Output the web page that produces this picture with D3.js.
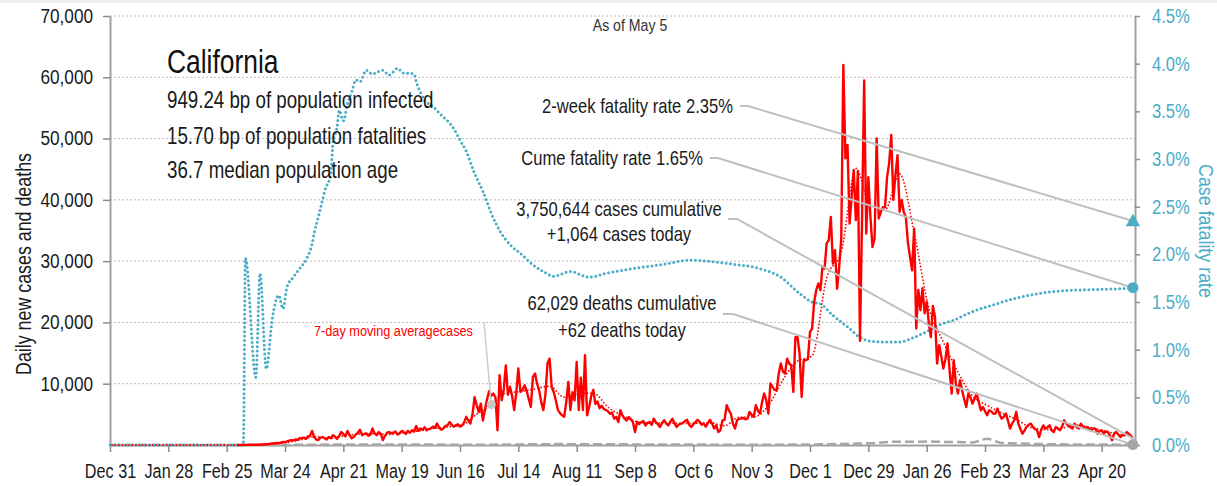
<!DOCTYPE html>
<html>
<head>
<meta charset="utf-8">
<script src="https://cdn.jsdelivr.net/npm/d3@7"></script>
<style>
  body { margin: 0; background: #fff; }
  svg { display: block; font-family: 'Liberation Sans', Arial, sans-serif; }
</style>
</head>
<body>
<div id="chart"></div>
<script>
// day 0 = Dec 31 2019
const start = new Date(2019, 11, 31);
const caseStartDay = 61; // Mar 1 2020

// daily new cases, Mar 1 2020 .. May 5 2021
const cases = [
  5, 8, 10, 15, 20, 25, 30, 40, 35, 50, 60, 70, 90, 110, 130, 150, 200, 250, 300, 350, 300, 400, 500, 450, 600, 700, 800, 750, 900, 850, 1100,
  1100, 1200, 1000, 1400, 1500, 2300, 1300, 900, 800, 1200, 1300, 1100, 900, 1300, 1100, 1600, 1400, 1000, 1500, 2100, 1800, 1400, 2300, 1600, 1100, 1300, 1700, 2000, 2500, 1600,
  1800, 1900, 1500, 1700, 2700, 1900, 1600, 2100, 1800, 800, 1500, 2000, 2100, 1900, 2000, 2200, 1700, 1900, 2300, 2100, 1800, 2300, 2000, 2400, 2200, 3100, 2300, 2700, 2500, 2900, 2400,
  2600, 2700, 3000, 2800, 3500, 2800, 2500, 2700, 3100, 3200, 3750, 3300, 3000, 3200, 3400, 3000, 3200, 3700, 4600, 4000, 3500, 5000, 7800, 6500, 5400, 6750, 4000, 5800, 7500, 8800,
  8000, 8400, 7800, 2400, 11400, 7300, 9000, 13000, 8200, 9500, 8000, 5700, 8500, 12500, 8650, 9000, 9750, 8800, 7500, 6200, 11100, 11650, 10000, 8900, 7000, 5700, 8200, 13300, 14100, 9500, 8600,
  7300, 5700, 5200, 4850, 4600, 7000, 10300, 5700, 8600, 7300, 13550, 5700, 11000, 5700, 14650, 4850, 6200, 8000, 9000, 6700, 7100, 6000, 6400, 5900, 5700, 5500, 5100, 5300, 4300, 4600, 3750,
  5670, 4800, 4300, 4000, 4570, 4200, 3750, 2120, 3750, 3400, 3750, 3900, 3200, 3600, 3750, 3300, 4300, 3700, 3400, 2940, 3600, 4030, 3500, 3200, 3800, 4300, 3500, 2940, 3300, 3480,
  3600, 3900, 4100, 3300, 2940, 3400, 3700, 4100, 3800, 3300, 3500, 3000, 3600, 4100, 3500, 2700, 3200, 2120, 2400, 4030, 4100, 6480, 5700, 5130, 3500, 2680, 4030, 4300, 4310, 4400, 4200,
  4310, 5390, 4900, 4590, 6480, 5600, 5130, 7000, 8390, 7300, 5130, 10030, 9480, 9000, 8930, 11660, 13300, 12000, 11660, 14100, 13300, 13000, 8650, 17600, 17600, 14930, 7840, 13830, 13830, 14000,
  18450, 19000, 23350, 25260, 26350, 25260, 29100, 28800, 32900, 33430, 37200, 29600, 31800, 25500, 29000, 33700, 62000, 46770, 48950, 36150, 40500, 44860, 36700, 44700, 17000, 37200, 59500, 34500, 43700, 37200, 32300,
  33700, 50000, 36970, 38000, 38800, 38800, 43700, 46000, 50600, 40000, 44000, 47300, 38050, 40000, 38000, 37200, 33000, 30700, 28500, 35300, 19000, 25300, 22000, 25600, 21500, 23350, 20000, 17600, 22700, 20900, 13300,
  16280, 14500, 12480, 14000, 16560, 12200, 8390, 13830, 10030, 8390, 10570, 8930, 7500, 6200, 8390, 7800, 6750, 7570, 8390, 7000, 5670, 6200, 5500, 4850, 5670, 5500, 5100, 5120,
  5940, 5000, 4300, 4600, 5120, 4000, 2680, 3500, 4030, 5400, 3480, 2600, 1850, 2400, 3000, 3300, 3480, 2940, 2600, 2400, 1300, 2500, 3200, 2680, 2900, 3200, 2400, 2120, 2940, 2700, 2400,
  3000, 4030, 3500, 3200, 2900, 2680, 3480, 2900, 2680, 3480, 3000, 2680, 2940, 2700, 2400, 2700, 2680, 1850, 2300, 2400, 1850, 2200, 2120, 1500, 770, 1900, 2120, 1700, 1300, 1600,
  1570, 2120, 1800, 1500, 1064
];

// weekly samples (day 1, 8, 15 ... 491)
const weekDays = d3.range(1, 492, 7);
const avgCases = [
  0, 0, 0, 0, 0, 0, 0, 0, 0,
  5, 37, 143, 414, 886, 1371, 1100, 1543, 1786, 1871, 1700, 2014, 2300, 2686, 2943, 3264, 5014, 6607, 8471, 8721,
  9143, 9600, 7800, 8307, 8486, 6186, 4789, 3813, 3557, 3639, 3503, 3563, 3629, 3150, 4546, 4586, 6433, 10629, 13701, 14554,
  27289, 31461, 45133, 39114, 38367, 44236, 34671, 22393, 16823, 11914, 8020, 6454, 5233, 4190, 2873, 2517, 2666, 3256, 2911, 2311,
  1759, 1565
];
const deaths = [
  0, 0, 0, 0, 0, 0, 0, 0, 0,
  0, 1, 5, 15, 30, 50, 70, 80, 75, 75, 70, 75, 70, 65, 60, 60, 50, 60, 70, 100,
  110, 140, 150, 130, 140, 120, 110, 90, 95, 80, 70, 70, 60, 55, 50, 45, 45, 55, 70, 90,
  120, 180, 230, 300, 450, 550, 520, 580, 500, 480, 420, 1000, 330, 250, 180, 140, 110, 90, 80, 70,
  60, 62
];

// case fatality rate (%), day index and value
const rateDay = [0, 64, 65, 70, 72, 75, 78, 81, 83, 85, 88, 91, 94, 97, 98, 100, 102, 103, 106, 107, 109, 110, 112, 114, 116, 118, 120,
  123, 126, 129, 131, 134, 138, 141, 144, 146, 147, 149, 151, 155, 159, 165, 168, 171, 175, 179, 183, 187, 193, 197, 203, 208, 213,
  221, 230, 238, 251, 267, 278, 286, 298, 312, 322, 331, 337, 341, 347, 354, 360, 365, 373, 379, 385, 392, 398, 405, 414, 424, 433,
  446, 459, 472, 485, 491];
const rateValue = [0, 0, 1.96, 0.71, 1.80, 0.80, 1.34, 1.57, 1.43, 1.66, 1.76, 1.85, 1.94, 2.11, 2.22, 2.39, 2.57, 2.66, 2.85, 3.17, 3.34, 3.51, 3.40, 3.58, 3.70, 3.83, 3.81,
  3.93, 3.89, 3.92, 3.93, 3.88, 3.95, 3.90, 3.90, 3.89, 3.81, 3.70, 3.62, 3.55, 3.46, 3.32, 3.20, 3.08, 2.85, 2.66, 2.43, 2.25, 2.08, 2.01, 1.89, 1.82, 1.77,
  1.82, 1.76, 1.80, 1.85, 1.90, 1.94, 1.93, 1.90, 1.85, 1.76, 1.59, 1.50, 1.48, 1.36, 1.24, 1.13, 1.09, 1.08, 1.08, 1.12, 1.19, 1.26, 1.31, 1.40, 1.47, 1.53,
  1.59, 1.62, 1.63, 1.64, 1.65];

const tickDays = [0, 28, 56, 84, 112, 140, 168, 196, 224, 252, 280, 308, 336, 364, 392, 420, 448, 476];
const tickLabels = ["Dec 31", "Jan 28", "Feb 25", "Mar 24", "Apr 21", "May 19", "Jun 16", "Jul 14", "Aug 11", "Sep 8",
  "Oct 6", "Nov 3", "Dec 1", "Dec 29", "Jan 26", "Feb 23", "Mar 23", "Apr 20"];

const lastDay = 491;
const twoWeekRate = 2.35;
const cumeRate = 1.65;
const casesToday = 1064;
const deathsToday = 62;
const statLines = ["949.24 bp of population infected", "15.70 bp of population fatalities", "36.7 median population age"];

const teal = "#4bacc6";
const width = 1217, height = 486;
const margin = { top: 16, right: 82, bottom: 41, left: 110 };

const day = d => d3.timeDay.offset(start, d);

// squeeze regular Liberation Sans into a narrow face
const condense = (sel, k) => sel.each(function () {
  const w = this.getComputedTextLength();
  d3.select(this).attr("textLength", w * k).attr("lengthAdjust", "spacingAndGlyphs");
});

const svg = d3.select("#chart")
  .append("svg")
  .attr("width", width)
  .attr("height", height);

svg.append("rect").attr("width", width).attr("height", 3).attr("fill", "#f0f0f0");

const x = d3.scaleTime()
  .domain([start, day(492)])
  .range([margin.left, width - margin.right]);

const y = d3.scaleLinear()
  .domain([0, 70000])
  .range([height - margin.bottom, margin.top]);

const yR = d3.scaleLinear()
  .domain([0, 4.5])
  .range([height - margin.bottom, margin.top]);

// grid
svg.append("g")
  .selectAll("line")
  .data(d3.range(10000, 70001, 10000))
  .join("line")
  .attr("x1", margin.left)
  .attr("x2", width - margin.right)
  .attr("y1", d => y(d))
  .attr("y2", d => y(d))
  .attr("stroke", "#bdbdbd")
  .attr("stroke-width", 1)
  .attr("stroke-dasharray", "2,2");

// axes
const styleAxis = g => {
  g.attr("font-family", null).attr("font-size", null);
  g.select(".domain").attr("stroke", "#a0a0a0").attr("stroke-width", 2);
  g.selectAll(".tick line").attr("stroke", "#8c8c8c").attr("stroke-width", 1.5);
  g.selectAll("text").attr("font-size", 20);
};

svg.append("g")
  .attr("transform", `translate(0, ${height - margin.bottom})`)
  .call(d3.axisBottom(x).tickValues(tickDays.map(day)).tickFormat((d, i) => tickLabels[i]).tickSize(7).tickSizeOuter(0).tickPadding(12))
  .call(styleAxis)
  .call(g => g.selectAll("text").attr("fill", "#1a1a1a").call(condense, 0.81));

svg.append("g")
  .attr("transform", `translate(${margin.left}, 0)`)
  .call(d3.axisLeft(y).tickValues(d3.range(10000, 70001, 10000)).tickFormat(d3.format(",")).tickSize(7).tickSizeOuter(0).tickPadding(10))
  .call(styleAxis)
  .call(g => g.selectAll("text").attr("fill", "#1a1a1a").call(condense, 0.86));

svg.append("g")
  .attr("transform", `translate(${width - margin.right}, 0)`)
  .call(d3.axisRight(yR).tickValues(d3.range(0, 4.51, 0.5)).tickFormat(d => d.toFixed(1) + "%").tickSize(5).tickSizeOuter(0).tickPadding(12))
  .call(styleAxis)
  .call(g => g.selectAll("text").attr("fill", teal).call(condense, 0.83));

svg.append("text")
  .attr("transform", `translate(31, ${(153 + 375) / 2}) rotate(-90)`)
  .attr("text-anchor", "middle")
  .attr("font-size", 22)
  .attr("fill", "#1a1a1a")
  .text("Daily new cases and deaths")
  .call(condense, 0.81);

svg.append("text")
  .attr("transform", `translate(1199, 231) rotate(90)`)
  .attr("text-anchor", "middle")
  .attr("font-size", 21)
  .attr("fill", teal)
  .text("Case fatality rate")
  .call(condense, 0.85);

// deaths
svg.append("path")
  .datum(deaths)
  .attr("fill", "none")
  .attr("stroke", "#a6a6a6")
  .attr("stroke-width", 2.5)
  .attr("stroke-dasharray", "9,4")
  .attr("d", d3.line().x((d, i) => x(day(weekDays[i]))).y(d => y(d)).curve(d3.curveMonotoneX));

// fatality rate
svg.append("path")
  .datum(rateValue)
  .attr("fill", "none")
  .attr("stroke", teal)
  .attr("stroke-width", 3)
  .attr("stroke-linecap", "round")
  .attr("stroke-dasharray", "0,4.4")
  .attr("d", d3.line().x((d, i) => x(day(rateDay[i]))).y(d => yR(d)).curve(d3.curveMonotoneX));

// daily cases
svg.append("path")
  .datum(cases)
  .attr("fill", "none")
  .attr("stroke", "#ff0000")
  .attr("stroke-width", 2.4)
  .attr("stroke-linejoin", "round")
  .attr("d", d3.line().x((d, i) => x(day(caseStartDay + i))).y(d => y(d)));

// 7-day average
svg.append("path")
  .datum(avgCases)
  .attr("fill", "none")
  .attr("stroke", "#ff0000")
  .attr("stroke-width", 1.8)
  .attr("stroke-linecap", "round")
  .attr("stroke-dasharray", "0,3.4")
  .attr("d", d3.line().x((d, i) => x(day(weekDays[i]))).y(d => y(d)).curve(d3.curveMonotoneX));

// text block
svg.append("text")
  .attr("x", 167).attr("y", 73)
  .attr("font-size", 33)
  .attr("fill", "#111")
  .text("California")
  .call(condense, 0.8);

svg.append("g")
  .selectAll("text")
  .data(statLines)
  .join("text")
  .attr("x", 167)
  .attr("y", (d, i) => [108, 144, 178][i])
  .attr("font-size", 24)
  .attr("fill", "#1a1a1a")
  .text(d => d)
  .call(condense, 0.78);

svg.append("text")
  .attr("x", 630).attr("y", 31)
  .attr("text-anchor", "middle")
  .attr("font-size", 17)
  .attr("fill", "#333")
  .text("As of May 5")
  .call(condense, 0.83);

// callouts to the last day
const ex = x(day(lastDay));
const callouts = [
  { lines: ["2-week fatality rate 2.35%"], anchor: "end", tx: 733, ty: [113], from: [740, 748, 106], to: yR(twoWeekRate) },
  { lines: ["Cume fatality rate 1.65%"], anchor: "end", tx: 703, ty: [165], from: [710, 718, 158], to: yR(cumeRate) },
  { lines: ["3,750,644 cases cumulative", "+1,064 cases today"], anchor: "middle", tx: 619, ty: [216, 241], from: [728, 737, 219], to: y(casesToday) },
  { lines: ["62,029 deaths cumulative", "+62 deaths today"], anchor: "middle", tx: 622, ty: [310, 337], from: [723, 733, 314], to: y(deathsToday) }
];

callouts.forEach(c => {
  svg.append("path")
    .attr("fill", "none")
    .attr("stroke", "#bfbfbf")
    .attr("stroke-width", 2)
    .attr("d", d3.line()([[c.from[0], c.from[2]], [c.from[1], c.from[2]], [ex, c.to]]));
  c.lines.forEach((t, i) => {
    svg.append("text")
      .attr("x", c.tx).attr("y", c.ty[i])
      .attr("text-anchor", c.anchor)
      .attr("font-size", 21)
      .attr("fill", "#1a1a1a")
      .text(t)
      .call(condense, 0.79);
  });
});

// 7-day label
const avgPt = [x(day(weekDays[26])), y(avgCases[26])];
svg.append("line")
  .attr("x1", 484).attr("y1", 322)
  .attr("x2", avgPt[0]).attr("y2", avgPt[1])
  .attr("stroke", "#cccccc")
  .attr("stroke-width", 1.5);
svg.append("circle")
  .attr("cx", avgPt[0]).attr("cy", avgPt[1])
  .attr("r", 4.5)
  .attr("fill", "#c8c8c8");
svg.append("text")
  .attr("x", 314).attr("y", 336)
  .attr("font-size", 15.5)
  .attr("fill", "#ff0000")
  .text("7-day moving averagecases")
  .call(condense, 0.82);

// end markers
svg.append("path")
  .attr("transform", `translate(${ex}, ${yR(twoWeekRate) + 1})`)
  .attr("d", d3.symbol(d3.symbolTriangle, 90)())
  .attr("fill", teal);
svg.append("circle")
  .attr("cx", ex).attr("cy", yR(cumeRate))
  .attr("r", 5.5)
  .attr("fill", teal);
svg.append("circle")
  .attr("cx", ex).attr("cy", y(deathsToday))
  .attr("r", 5.5)
  .attr("fill", "#a6a6a6");
</script>
</body>
</html>
